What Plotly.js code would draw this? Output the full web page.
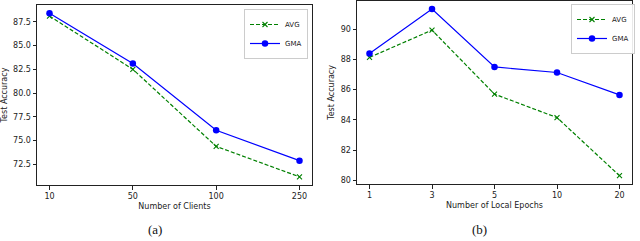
<!DOCTYPE html>
<html><head><meta charset="utf-8">
<script src="https://cdn.plot.ly/plotly-3.0.1.min.js"></script>
<style>body{margin:0;background:#fff}#c{width:640px;height:241px}</style>
</head><body><div id="c"></div>
<script>
const clients = ["10", "50", "100", "250"];
const avgClients = [88.1, 82.5, 74.4, 71.2];
const gmaClients = [88.4, 83.1, 76.1, 72.9];
const epochs = ["1", "3", "5", "10", "20"];
const avgEpochs = [88.13, 89.93, 85.7, 84.15, 80.31];
const gmaEpochs = [88.39, 91.32, 87.5, 87.13, 85.65];
const yTicksA = [72.5, 75.0, 77.5, 80.0, 82.5, 85.0, 87.5];
const yTicksB = [80, 82, 84, 86, 88, 90];

const green = '#008000', blue = '#0000ff';
function avgTrace(x, y, xa, ya, lg, show) {
  return {x, y, xaxis: xa, yaxis: ya, legend: lg, name: 'AVG', showlegend: show, mode: 'lines+markers',
    line: {color: green, dash: '4px,2px', width: 1.2},
    marker: {symbol: 'x-thin-open', size: 5, color: green, line: {color: green, width: 1.1}}};
}
function gmaTrace(x, y, xa, ya, lg, show) {
  return {x, y, xaxis: xa, yaxis: ya, legend: lg, name: 'GMA', showlegend: show, mode: 'lines+markers',
    line: {color: blue, width: 1.2},
    marker: {symbol: 'circle', size: 6.5, color: blue}};
}
const data = [
  avgTrace(clients, avgClients, 'x', 'y', 'legend', true),
  gmaTrace(clients, gmaClients, 'x', 'y', 'legend', true),
  avgTrace(epochs, avgEpochs, 'x2', 'y2', 'legend2', true),
  gmaTrace(epochs, gmaEpochs, 'x2', 'y2', 'legend2', true)
];
const tickFont = {family: 'DejaVu Sans', size: 8, color: '#222'};
const axBase = {showline: true, mirror: true, linecolor: '#222', linewidth: 1, ticks: 'outside', ticklen: 3.5,
  tickcolor: '#222', showgrid: false, zeroline: false, tickfont: tickFont};
const legBase = {bgcolor: 'rgba(255,255,255,0.9)', bordercolor: '#ccc', borderwidth: 1,
  font: {family: 'DejaVu Sans', size: 7, color: '#222'}, xanchor: 'right', yanchor: 'top',
  tracegroupgap: 0, itemwidth: 30};
const layout = {
  width: 640, height: 241, margin: {l: 0, r: 0, t: 0, b: 0}, paper_bgcolor: '#fff', plot_bgcolor: '#fff',
  showlegend: true,
  xaxis: Object.assign({}, axBase, {domain: [37/640, 312/640], anchor: 'y', type: 'category', range: [-0.15, 3.15],
    title: {text: 'Number of Clients', font: {family: 'DejaVu Sans', size: 8, color: '#222'}, standoff: 3}}),
  yaxis: Object.assign({}, axBase, {domain: [(241-185)/241, (241-5)/241], anchor: 'x', range: [70.34, 89.26],
    tickvals: yTicksA, ticktext: yTicksA.map(v => v.toFixed(1)),
    title: {text: 'Test Accuracy', font: {family: 'DejaVu Sans', size: 8, color: '#222'}, standoff: 4}}),
  xaxis2: Object.assign({}, axBase, {domain: [357/640, 632/640], anchor: 'y2', type: 'category', range: [-0.2, 4.2],
    title: {text: 'Number of Local Epochs', font: {family: 'DejaVu Sans', size: 8, color: '#222'}, standoff: 3}}),
  yaxis2: Object.assign({}, axBase, {domain: [(241-184)/241, (241-0.8)/241], anchor: 'x2', range: [79.76, 91.87],
    tickvals: yTicksB,
    title: {text: 'Test Accuracy', font: {family: 'DejaVu Sans', size: 8, color: '#222'}, standoff: 4}}),
  legend: Object.assign({}, legBase, {x: 308/640, y: (241-9)/241}),
  legend2: Object.assign({}, legBase, {x: 635/640, y: (241-4)/241}),
  annotations: [
    {text: '(a)', xref: 'paper', yref: 'paper', x: 155/640, y: (241-229)/241, showarrow: false,
      font: {family: 'Liberation Serif', size: 13, color: '#111'}, xanchor: 'center', yanchor: 'middle'},
    {text: '(b)', xref: 'paper', yref: 'paper', x: 479/640, y: (241-229)/241, showarrow: false,
      font: {family: 'Liberation Serif', size: 13, color: '#111'}, xanchor: 'center', yanchor: 'middle'}
  ]
};
Plotly.newPlot('c', data, layout, {staticPlot: true, displayModeBar: false});
</script></body></html>
